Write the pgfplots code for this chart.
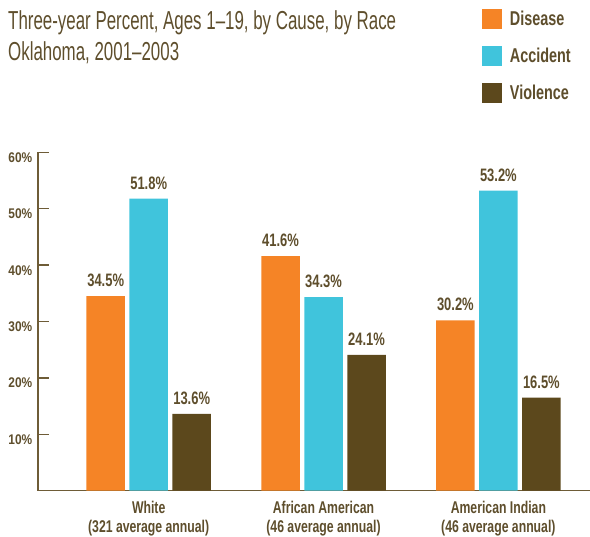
\documentclass[border=0pt]{standalone}
\usepackage{fontspec}
\setmainfont{Liberation Sans}
\newfontfamily\titlefont{Liberation Sans}[FakeStretch=0.65]
\newfontfamily\labfont{Liberation Sans}[FakeStretch=0.72]
\newfontfamily\tickfont{Liberation Sans}[FakeStretch=0.85]
\usepackage{pgfplots}
\pgfplotsset{compat=1.18}
\definecolor{cOrange}{RGB}{245,132,38}
\definecolor{cCyan}{RGB}{64,196,220}
\definecolor{cBrown}{RGB}{92,72,28}
\definecolor{cText}{RGB}{94,78,44}
\definecolor{cAxis}{RGB}{110,92,55}
\pgfplotstableread{
x disease accident violence
0 34.5 51.8 13.6
1 41.6 34.3 24.1
2 30.2 53.2 16.5
}\datatable
\begin{document}
\begin{tikzpicture}
\useasboundingbox (0,0) rectangle (590pt,-537pt);
\node[anchor=base west, inner sep=0pt, text=cText, font=\titlefont\fontsize{26}{30}\selectfont] at (8pt,-30pt) {Three-year Percent, Ages 1–19, by Cause, by Race};
\node[anchor=base west, inner sep=0pt, text=cText, font=\titlefont\fontsize{26}{30}\selectfont] at (8pt,-61pt) {Oklahoma, 2001–2003};
\begin{axis}[
  at={(38pt,-490.7pt)}, anchor=south west,
  scale only axis, width=552pt, height=338.4pt,
  xmin=-0.633, xmax=2.524, ymin=0, ymax=60,
  axis x line*=bottom, axis y line*=left,
  axis line style={cAxis, line width=1.5pt, -},
  ybar=4.5pt, bar width=38.5pt,
  xtick={0,1,2},
  xticklabels={{White\\(321 average annual)},{African American\\(46 average annual)},{American Indian\\(46 average annual)}},
  ytick={10,20,30,40,50,60},
  yticklabels={10\%,20\%,30\%,40\%,50\%,60\%},
  xtick pos=bottom, ytick pos=left, tick align=inside,
  major tick length=11pt,
  xtick style={draw=none},
  ytick style={draw=cAxis, line width=1.5pt},
  yticklabel style={font=\tickfont\bfseries\fontsize{14}{14}\selectfont, text=cText, anchor=north east, inner sep=0pt, xshift=-5.5pt},
  xticklabel style={font=\labfont\bfseries\fontsize{17}{19}\selectfont, text=cText, align=center, anchor=north, inner sep=0pt, yshift=-10pt},
  /pgf/number format/assume math mode=true,
  nodes near coords={\pgfmathprintnumber[fixed,precision=1,fixed zerofill]{\pgfplotspointmeta}\%},
  nodes near coords style={font=\labfont\bfseries\fontsize{18}{18}\selectfont, text=cText, anchor=south, inner sep=0pt, yshift=9pt},
  legend style={at={(0.8043,1.4235)}, anchor=north west, draw=none, fill=none, inner sep=0pt, outer sep=0pt,
    nodes={inner sep=0pt, text=cText, font=\labfont\bfseries\fontsize{20}{20}\selectfont},
    row sep=17pt, /tikz/every odd column/.append style={column sep=8pt}},
  legend cell align=left,
  legend image code/.code={\fill[#1] (0pt,-10pt) rectangle (20pt,10pt);},
  clip=false,
]
\addplot[fill=cOrange, draw=none] table[x=x, y=disease] {\datatable};
\addplot[fill=cCyan, draw=none] table[x=x, y=accident] {\datatable};
\addplot[fill=cBrown, draw=none] table[x=x, y=violence] {\datatable};
\legend{Disease, Accident, Violence}
\pgfplotsinvokeforeach{10,20,30,40,50,60}{
  \draw[cAxis, line width=1.5pt] (axis cs:-0.633,#1) -- ++(11pt,0pt);
}
\end{axis}
\end{tikzpicture}
\end{document}
